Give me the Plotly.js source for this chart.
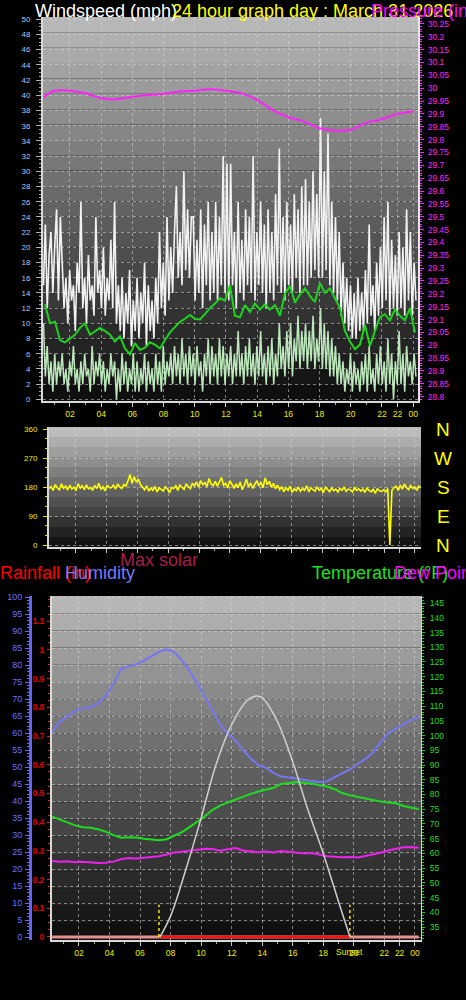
<!DOCTYPE html>
<html><head><meta charset="utf-8">
<script src="https://cdn.plot.ly/plotly-3.0.1.min.js"></script>
<style>html,body{margin:0;padding:0;background:#000;}#chart{width:466px;height:1000px;}</style>
</head><body><div id="chart"></div>
<script>
// ---------------- DATA ----------------
const hourTickVals = [2,4,6,8,10,12,14,16,18,20,22,23,24];
const hourTickText = ["02","04","06","08","10","12","14","16","18","20","22","22","00"];

// wind gust (mph), sampled every 0.12 h from 0.3 h
const gustStart = 0.3, gustStep = 0.12;
const windGust = [
15,23,12,19,22,14,20,25,13,24, 18,12,16,10,17,13,15,9,18,14,
26,12,16,10,19,13,15,11,24,14, 17,12,20,11,16,13,21,12,26,10,
15,9,16,8,14,10,17,7,13,9, 16,8,14,10,18,7,15,9,13,8,
16,10,22,12,18,11,24,13,20,14, 22,28,16,22,15,30,17,25,16,24,
24,13,21,14,25,12,23,15,26,13, 22,14,26,13,24,15,32,14,31,13,
31,15,22,12,26,14,21,13,25,15, 24,14,32,13,22,15,26,14,23,12,
25,14,22,13,27,15,33,14,24,13, 26,15,23,14,27,16,25,14,28,15,
29,15,26,16,30,17,27,16,37,16, 30,17,35,15,26,14,24,13,22,11,
18,10,16,9,15,8,14,8,16,9, 14,9,17,10,23,11,15,9,18,11,
20,12,24,13,26,11,21,12,19,11, 22,12,20,11,25,13,22,11,18,13];
// wind speed (mph), same sampling
const windSpeed = [
10,3,7,2,5,1,6,2,5,3, 6,2,4,1,5,3,7,2,4,1,
5,2,6,3,4,1,7,2,5,3, 6,2,5,1,4,2,6,3,5,0,
4,1,6,2,5,1,4,2,6,1, 5,1,4,2,6,1,5,2,4,1,
6,2,5,1,7,2,5,3,6,2, 7,3,6,2,8,3,6,2,7,3,
6,2,7,3,5,1,6,3,8,2, 7,3,6,2,8,3,7,2,6,3,
7,2,6,3,9,3,6,2,7,3, 8,3,6,2,7,3,9,3,6,2,
7,3,8,2,6,3,10,4,7,3, 9,4,10,3,8,5,11,4,9,5,
10,4,9,5,11,4,8,5,12,4, 10,4,9,3,8,3,7,2,6,2,
5,1,4,2,6,1,5,2,4,1, 5,2,6,1,7,2,4,1,6,2,
7,2,5,1,8,2,6,0,5,2, 9,2,6,1,7,3,5,2,6,3];
// average wind speed (mph), every 0.3205 h from 0.4 h
const avgStart = 0.397, avgStep = 0.3205;
const windAvg = [12.5,10.0,10.2,7.8,7.5,8.0,8.5,9.4,10.0,8.5,9.0,9.4,9.0,8.5,7.6,8.3,6.7,5.9,7.4,6.5,
6.8,7.5,7.2,6.7,7.8,8.8,9.5,10.2,10.6,11.1,10.6,10.5,11.2,12.0,12.6,13.3,13.0,15.0,11.0,10.8,
12.4,11.5,12.6,11.8,12.5,11.8,12.4,11.0,13.9,14.9,12.7,13.8,14.6,13.6,12.8,15.3,14.0,14.6,13.3,12.0,
9.0,7.6,6.6,7.2,9.8,7.0,9.0,10.8,11.2,10.4,11.8,11.0,10.4,12.0,8.8];
// pressure (in)
const pressureHours = [0.3,1,2,3,4,5,6,7,8,9,10,11,12,13,14,15,16,17,18,19,20,21,22,23,24];
const pressure = [29.965,29.99,29.99,29.98,29.961,29.957,29.967,29.974,29.978,29.987,29.99,29.996,29.99,29.98,
29.954,29.915,29.887,29.87,29.844,29.835,29.838,29.866,29.879,29.9,29.909];
// wind direction (deg), 180 samples from 0.25 h to 24.4 h
const dirStart = 0.25, dirEnd = 24.4;
const windDir = [
175,182,170,188,178,172,190,176,183,171, 186,174,180,169,191,177,184,172,187,175,
179,170,185,176,192,173,181,168,186,178, 178,186,174,190,181,176,188,183,200,219,
192,212,196,205,188,180,172,184,168,177, 170,182,165,178,172,168,181,174,163,179,
176,184,170,186,179,173,189,181,175,192, 184,196,180,200,188,194,182,207,190,185,
198,183,195,210,186,192,178,200,189,176, 190,179,196,172,185,205,181,193,176,188,
200,184,195,178,209,188,198,180,192,175, 186,172,181,166,178,170,183,164,175,169,
180,167,176,170,184,165,178,172,168,181, 170,176,163,180,172,166,178,169,174,165,
176,170,181,167,174,172,165,178,170,175, 168,174,164,177,170,166,173,161,175,169,
167,172,165,176,0,170,178,183,170,186, 174,190,179,172,185,176,181,170,183,178];
const dirCompass = ["N","W","S","E","N"];
const dirCompassDeg = [360,270,180,90,0];
// half-hourly series, from 0.25 h
const halfStart = 0.25, halfStep = 0.5;
const humidity = [60.2,63.3,64.8,66.5,67.2,67.6,68.8,70.8,74.5,78.8,79.6,80.2,81.3,82.6,83.9,84.6,83.7,81.3,78.2,74.6,
70.5,66.8,62.5,59.8,57.8,55.0,52.5,50.5,49.8,48.2,47.2,46.9,46.5,46.2,45.9,45.6,45.8,47.0,48.1,49.3,
50.9,52.4,54.2,57.3,60.0,61.3,62.6,63.8,64.7];
const temperature = [72.5,71.5,70.3,69.5,68.9,68.7,68.2,67.4,66.2,65.3,65.5,65.4,65.0,64.8,64.5,64.8,65.9,67.2,68.9,70.6,
72.6,74.8,76.2,77.3,78.3,79.2,80.2,81.0,81.7,82.3,83.6,84.0,84.2,84.0,83.7,83.1,82.7,81.8,80.5,79.7,
79.2,78.7,78.0,77.6,77.3,77.0,76.1,75.5,75.0];
const dewPoint = [57.4,57.2,57.3,57.0,57.2,57.0,56.7,56.8,57.2,58.0,58.4,58.3,58.5,58.7,59.0,59.6,60.3,60.6,61.0,61.2,
61.6,61.5,60.9,61.4,61.8,61.0,60.8,60.4,60.6,60.3,60.8,60.5,60.2,60.0,60.1,59.5,59.0,58.9,58.7,58.8,
58.6,59.1,59.6,60.2,61.0,61.6,62.1,62.2,61.9];
// rainfall (in), hourly
const rainHours = [0.25,1.25,2.25,3.25,4.25,5.25,6.25,7.25,8.25,9.25,10.25,11.25,12.25,13.25,14.25,15.25,16.25,17.25,18.25,19.25,20.25,21.25,22.25,23.25,24.25];
const rainfall = [0,0,0,0,0,0,0,0,0,0,0,0,0,0,0,0,0,0,0,0,0,0,0,0,0];
// max solar (W/m2)
const solarHours = [7.3,8,9,10,11,12,13,13.6,14,15,16,17,18,19,19.75];
const maxSolar = [0,65,210,370,540,660,735,750,745,670,545,395,260,110,0];
const sunrise = 7.24, sunset = 19.74;

// ---------------- HELPERS ----------------
const W = 466, H = 1000;
const fx = p => p / W, fy = p => 1 - p / H;
const series = (start, step, n) => Array.from({length:n}, (_, i) => start + i * step);
const gustT = series(gustStart, gustStep, windGust.length);
const avgT = series(avgStart, avgStep, windAvg.length);
const dirT = series(dirStart, (dirEnd - dirStart) / (windDir.length - 1), windDir.length);
const halfT = series(halfStart, halfStep, humidity.length);
const dayRainT = [sunrise].concat(rainHours.filter(h => h > sunrise && h < sunset), [sunset]);
const dayRain = dayRainT.map(h => rainfall[0]);

const GRID = 'rgba(215,215,215,0.55)';
const FONT = 'Liberation Sans, Arial, sans-serif';

const traces = [
  {x:gustT, y:windGust, xaxis:'x', yaxis:'y', mode:'lines', line:{color:'#f2f2f2', width:1.6}},
  {x:gustT, y:windSpeed, xaxis:'x', yaxis:'y', mode:'lines', line:{color:'rgba(196,242,196,0.95)', width:1.5}},
  {x:avgT, y:windAvg, xaxis:'x', yaxis:'y', mode:'lines', line:{color:'#1ed21e', width:2}},
  {x:pressureHours, y:pressure, xaxis:'x', yaxis:'y2', mode:'lines', line:{color:'#ff22ff', width:2, shape:'spline'}},
  {x:dirT, y:windDir, xaxis:'x3', yaxis:'y3', mode:'lines', line:{color:'#ffff00', width:1.6}},
  {x:rainHours, y:rainfall, xaxis:'x4', yaxis:'y4', mode:'lines', line:{color:'#e89090', width:3}},
  {x:dayRainT, y:dayRain, xaxis:'x4', yaxis:'y4', mode:'lines', line:{color:'#ff1010', width:2.5}},
  {x:solarHours, y:maxSolar, xaxis:'x4', yaxis:'y7', mode:'lines', line:{color:'#cfcfcf', width:1.5, shape:'spline'}},
  {x:halfT, y:humidity, xaxis:'x4', yaxis:'y5', mode:'lines', line:{color:'#7676f2', width:2}},
  {x:halfT, y:temperature, xaxis:'x4', yaxis:'y6', mode:'lines', line:{color:'#1edc1e', width:2}},
  {x:halfT, y:dewPoint, xaxis:'x4', yaxis:'y6', mode:'lines', line:{color:'#ee22ee', width:2}},
  {x:[sunrise, sunrise, null, sunset, sunset], y:[0, 9.5, null, 0, 9.5], xaxis:'x4', yaxis:'y5', mode:'lines',
   line:{color:'#f0f000', width:1.5, dash:'dot'}}
];

// background gradient bands
const shapes = [];
function bands(xr, yr, n, top, bottom) {
  for (let i = 0; i < n; i++) {
    const t = (i + 0.5) / n;
    const g = Math.round(bottom + (top - bottom) * t);
    shapes.push({type:'rect', xref:xr + ' domain', yref:yr + ' domain', x0:0, x1:1, y0:i / n, y1:(i + 1) / n,
      fillcolor:`rgb(${g},${g},${g})`, line:{width:0}, layer:'below'});
  }
}
bands('x', 'y', 25, 186, 12);
bands('x3', 'y3', 12, 196, 12);
bands('x4', 'y4', 20, 186, 12);

const xCommon = {tickvals:hourTickVals, ticktext:hourTickText, tickfont:{color:'#ecec00', size:8.5, family:FONT},
  ticks:'outside', ticklen:4, tickcolor:'#c8c8c8', showline:true, linecolor:'#d8d8d8', linewidth:2,
  showgrid:true, gridcolor:GRID, griddash:'dot', zeroline:false, fixedrange:true,
  minor:{dtick:1, tick0:0, ticklen:2, tickcolor:'#b0b0b0', ticks:'outside', showgrid:false}};

const ann = [];
function label(text, x, y, color, size) {
  ann.push({text:text, xref:'paper', yref:'paper', x:fx(x), y:fy(y), xanchor:'left', yanchor:'middle',
    showarrow:false, font:{family:FONT, size:size || 18, color:color}, borderpad:0});
}
label('Windspeed (mph)', 34, 11, '#ffffff');
label('24 hour graph day : March 31 2026', 171, 11, '#ffff00');
label('Pressure (in)', 370, 11, '#ff00ff');
label('Max solar', 119, 560, '#a51e4a');
label('Rainfall (in)', -1, 573, '#ff0000');
label('Humidity', 64, 573, '#7878ff');
label('Temperature (°F)', 311, 573, '#1ee01e');
label('Dew Point', 393, 573, '#ff00ff');
dirCompass.forEach((c, i) => ann.push({text:c, xref:'paper', yref:'y3', x:fx(443), y:dirCompassDeg[i], xanchor:'center',
  yanchor:'middle', showarrow:false, font:{family:FONT, size:19, color:'#ffff00'}}));
ann.push({text:'Sunset', xref:'x4', yref:'paper', x:sunset, y:fy(952), xanchor:'center', yanchor:'middle',
  showarrow:false, font:{family:FONT, size:8.5, color:'#ecec00'}});

const layout = {
  width:W, height:H, margin:{l:0, r:0, t:0, b:0}, paper_bgcolor:'#000', plot_bgcolor:'rgba(0,0,0,0)',
  showlegend:false, font:{family:FONT}, shapes:shapes, annotations:ann,
  xaxis:Object.assign({}, xCommon, {domain:[fx(43), fx(418)], range:[0.27, 24.31], anchor:'y'}),
  yaxis:{domain:[fy(401), fy(17)], range:[-0.22, 50.3], dtick:2, tick0:0, anchor:'x',
    tickfont:{color:'#a8c8f8', size:8, family:FONT}, ticks:'outside', ticklen:5, tickcolor:'#b0b0b0', ticklabelstandoff:4,
    showline:true, linecolor:'#d8d8d8', linewidth:2, showgrid:true, gridcolor:GRID, griddash:'dot', zeroline:false,
    minor:{dtick:0.5, ticklen:2, tickcolor:'#a0a0a0', ticks:'outside', showgrid:false}, fixedrange:true},
  yaxis2:{overlaying:'y', side:'right', anchor:'x', range:[28.783, 30.277], dtick:0.05, tick0:28.8,
    tickfont:{color:'#ff22ff', size:8.5, family:FONT}, ticks:'outside', ticklen:4, tickcolor:'#ff22ff', ticklabelstandoff:2,
    showline:true, linecolor:'#e8e8e8', linewidth:2, showgrid:false, zeroline:false,
    minor:{dtick:0.01, ticklen:2, tickcolor:'#ff22ff', ticks:'outside', showgrid:false}, fixedrange:true},
  xaxis3:Object.assign({}, xCommon, {domain:[fx(49), fx(421)], range:[0.25, 24.4], anchor:'y3', showticklabels:false}),
  yaxis3:{domain:[fy(547), fy(427)], range:[-6.2, 367.1], tickvals:[0,90,180,270,360], anchor:'x3',
    tickfont:{color:'#ecec00', size:8, family:FONT}, ticks:'outside', ticklen:4, tickcolor:'#e0e000', ticklabelstandoff:4,
    showline:true, linecolor:'#d8d8d8', linewidth:2, showgrid:true, gridcolor:GRID, griddash:'dot', zeroline:false,
    minor:{dtick:30, tick0:0, ticklen:2, tickcolor:'#e0e000', ticks:'outside', showgrid:false}, fixedrange:true},
  xaxis4:Object.assign({}, xCommon, {domain:[fx(52), fx(421)], range:[0.236, 24.40], anchor:'y4'}),
  yaxis4:{domain:[fy(940), fy(596)], range:[-0.0105, 1.188], dtick:0.1, tick0:0, anchor:'x4',
    tickfont:{color:'#e00000', size:8.5, family:FONT, weight:'bold'}, ticks:'outside', ticklen:3, tickcolor:'#e02020', ticklabelstandoff:1,
    showline:true, linecolor:'#d8d8d8', linewidth:2, showgrid:false, zeroline:false,
    minor:{dtick:0.025, tick0:0, ticklen:2, tickcolor:'#e03030', ticks:'outside', showgrid:false}, fixedrange:true},
  yaxis5:{overlaying:'y4', side:'left', anchor:'free', position:fx(30), range:[-0.88, 100.3], dtick:5, tick0:0,
    tickfont:{color:'#6e6eff', size:9, family:FONT}, ticks:'outside', ticklen:4, tickcolor:'#6a6aff', ticklabelstandoff:1,
    showline:true, linecolor:'#6464f0', linewidth:3, showgrid:true, gridcolor:GRID, griddash:'dot', zeroline:false,
    minor:{dtick:1, tick0:0, ticklen:2, tickcolor:'#6a6aff', ticks:'outside', showgrid:false}, fixedrange:true},
  yaxis6:{overlaying:'y4', side:'right', anchor:'x4', range:[30.59, 147.4], dtick:5, tick0:0,
    tickfont:{color:'#22dd22', size:8.5, family:FONT}, ticks:'outside', ticklen:3, tickcolor:'#22cc22', ticklabelstandoff:3,
    showline:true, linecolor:'#d0d0d0', linewidth:1, showgrid:false, zeroline:false,
    minor:{dtick:1, tick0:0, ticklen:2, tickcolor:'#22cc22', ticks:'outside', showgrid:false}, fixedrange:true},
  yaxis7:{overlaying:'y4', visible:false, range:[-9.3, 1061], fixedrange:true}
};

Plotly.newPlot('chart', traces, layout, {staticPlot:true, displayModeBar:false});
</script></body></html>
